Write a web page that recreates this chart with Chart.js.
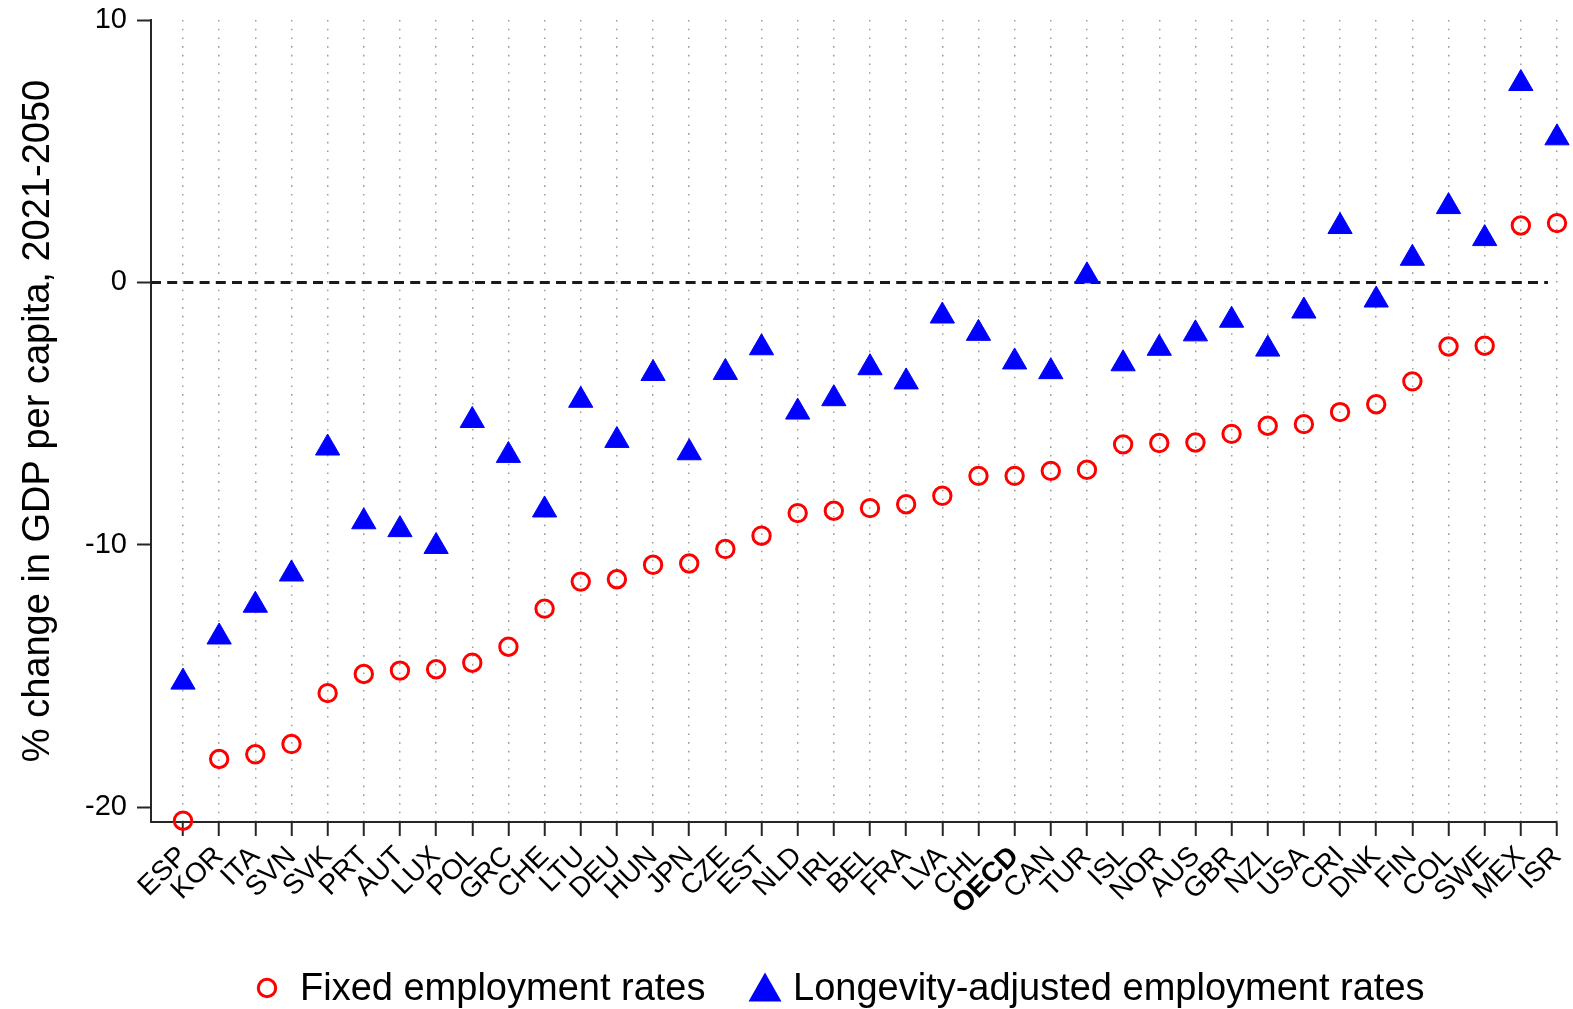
<!DOCTYPE html>
<html>
<head>
<meta charset="utf-8">
<script src="https://cdn.jsdelivr.net/npm/chart.js@4/dist/chart.umd.min.js"></script>
<style>
  html, body { margin: 0; padding: 0; background: #ffffff; }
  #chart { display: block; }
</style>
</head>
<body>
<canvas id="chart" width="1573" height="1009"></canvas>
<script>
// Countries, ordered by the fixed-employment projection
const categories = ['ESP','KOR','ITA','SVN','SVK','PRT','AUT','LUX','POL','GRC','CHE','LTU','DEU','HUN','JPN','CZE','EST','NLD','IRL','BEL','FRA','LVA','CHL','OECD','CAN','TUR','ISL','NOR','AUS','GBR','NZL','USA','CRI','DNK','FIN','COL','SWE','MEX','ISR'];

// % change in GDP per capita, 2021-2050
const fixedRates = [-20.51,-18.16,-17.98,-17.59,-15.65,-14.92,-14.79,-14.74,-14.49,-13.88,-12.43,-11.40,-11.31,-10.76,-10.71,-10.16,-9.65,-8.79,-8.70,-8.60,-8.45,-8.13,-7.37,-7.37,-7.18,-7.14,-6.17,-6.12,-6.10,-5.77,-5.46,-5.40,-4.94,-4.64,-3.77,-2.44,-2.41,2.17,2.26];
const longevityRates = [-15.23,-13.51,-12.30,-11.11,-6.31,-9.12,-9.42,-10.06,-5.26,-6.59,-8.67,-4.49,-6.02,-3.47,-6.49,-3.43,-2.49,-4.94,-4.43,-3.25,-3.79,-1.28,-1.94,-3.03,-3.40,0.25,-3.10,-2.51,-1.96,-1.44,-2.54,-1.09,2.13,-0.67,0.92,2.89,1.67,7.58,5.51];

const yTickValues = [-20, -10, 0, 10];
const legendLabels = ['Fixed employment rates', 'Longevity-adjusted employment rates'];
const yTitle = '% change in GDP per capita, 2021-2050';

const FONT = '"Liberation Sans", Arial, Helvetica, sans-serif';
const RED = '#ff0000';
const BLUE = '#0000ff';
const AXIS = '#262626';

const toPoints = arr => arr.map((v, i) => ({ x: i, y: v }));

// Legend row underneath the category labels
const bottomLegend = {
  id: 'bottomLegend',
  afterDraw(chart) {
    const ctx = chart.ctx;
    const y = chart.height - 21;
    ctx.save();
    ctx.font = '38px ' + FONT;
    ctx.fillStyle = '#000000';
    ctx.textBaseline = 'middle';
    ctx.textAlign = 'left';

    // open red circle
    ctx.beginPath();
    ctx.arc(267, y, 8.7, 0, Math.PI * 2);
    ctx.lineWidth = 3;
    ctx.strokeStyle = RED;
    ctx.stroke();
    ctx.fillText(legendLabels[0], 300, y + 2);

    // solid blue triangle
    const cx = 765, h = 29, w = 33;
    ctx.beginPath();
    ctx.moveTo(cx, y - h / 2 - 1);
    ctx.lineTo(cx + w / 2, y + h / 2 - 1);
    ctx.lineTo(cx - w / 2, y + h / 2 - 1);
    ctx.closePath();
    ctx.fillStyle = BLUE;
    ctx.fill();
    ctx.fillStyle = '#000000';
    ctx.fillText(legendLabels[1], 793, y + 2);
    ctx.restore();
  }
};

new Chart(document.getElementById('chart'), {
  type: 'scatter',
  data: {
    datasets: [
      {
        label: 'zero',
        type: 'line',
        data: [{ x: -0.885, y: 0 }, { x: categories.length - 1.25, y: 0 }],
        borderColor: '#1a1a1a',
        borderWidth: 3,
        borderDash: [10, 6.2],
        pointRadius: 0,
        fill: false,
        order: 3
      },
      {
        label: legendLabels[0],
        data: toPoints(fixedRates),
        pointStyle: 'circle',
        pointRadius: 8.7,
        borderWidth: 3,
        borderColor: RED,
        backgroundColor: 'rgba(0,0,0,0)',
        clip: false,
        order: 2
      },
      {
        label: legendLabels[1],
        data: toPoints(longevityRates),
        pointStyle: 'triangle',
        pointRadius: 14,
        borderWidth: 1,
        borderColor: BLUE,
        backgroundColor: BLUE,
        clip: false,
        order: 1
      }
    ]
  },
  options: {
    responsive: false,
    animation: false,
    events: [],
    layout: { padding: { top: 20, right: 16, bottom: 77, left: 0 } },
    plugins: {
      legend: { display: false },
      tooltip: { enabled: false }
    },
    scales: {
      x: {
        type: 'linear',
        min: -0.885,
        max: categories.length - 1,
        afterBuildTicks: s => { s.ticks = categories.map((c, i) => ({ value: i })); },
        afterFit: s => { s.height = 110; s.paddingLeft = 0; s.paddingRight = 0; },
        border: { display: true, color: AXIS, width: 2, dash: [1.6, 7.1] },
        grid: {
          display: true,
          drawOnChartArea: true,
          color: '#9c9c9c',
          lineWidth: 1.5,
          drawTicks: true,
          tickLength: 14,
          tickColor: AXIS,
          tickWidth: 2,
          tickBorderDash: []
        },
        ticks: {
          autoSkip: false,
          minRotation: 45,
          maxRotation: 45,
          padding: 4,
          color: '#000000',
          font: ctx => ({
            family: FONT,
            size: 28,
            weight: (ctx.tick && categories[ctx.tick.value] === 'OECD') ? 'bold' : 'normal'
          }),
          callback: v => categories[v]
        }
      },
      y: {
        type: 'linear',
        min: -20.56,
        max: 10,
        afterBuildTicks: s => { s.ticks = yTickValues.map(v => ({ value: v })); },
        afterFit: s => { s.width = 151; s.paddingTop = 0; s.paddingBottom = 0; },
        border: { display: true, color: AXIS, width: 2 },
        grid: {
          drawOnChartArea: false,
          drawTicks: true,
          tickLength: 14,
          tickColor: AXIS,
          tickWidth: 2
        },
        ticks: {
          padding: 10,
          color: '#000000',
          font: { family: FONT, size: 29 },
          callback: v => String(v)
        },
        title: {
          display: true,
          text: yTitle,
          color: '#000000',
          font: { family: FONT, size: 38 },
          padding: { top: 16, bottom: 0 }
        }
      }
    }
  },
  plugins: [bottomLegend]
});
</script>
</body>
</html>
